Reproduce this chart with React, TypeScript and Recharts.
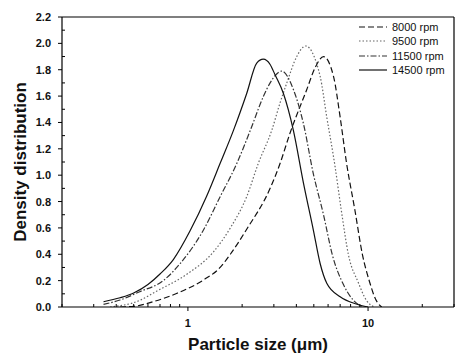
import { LineChart, Line, XAxis, YAxis, Legend, ReferenceLine, Label } from "recharts";

// particle size (µm) and density, one pair of lists per speed
const size8000 = [0.42, 0.5, 0.64, 0.87, 1.22, 1.51, 1.72, 2.12, 2.86, 3.25, 3.69, 4.57, 5.1, 5.66, 6.43, 7.0, 7.6, 8.45, 9.3, 10.2, 11.0, 11.9];
const density8000 = [0.0, 0.005, 0.04, 0.104, 0.205, 0.3, 0.4, 0.59, 0.9, 1.09, 1.32, 1.65, 1.82, 1.9, 1.75, 1.44, 1.09, 0.736, 0.4, 0.19, 0.06, 0.0];

const size9500 = [0.37, 0.54, 0.67, 0.99, 1.39, 1.72, 2.12, 2.46, 2.92, 3.25, 3.54, 4.02, 4.5, 5.42, 5.9, 6.56, 7.1, 7.8, 8.8, 9.8, 10.8];
const density9500 = [0.0, 0.05, 0.12, 0.25, 0.42, 0.6, 0.837, 1.09, 1.34, 1.55, 1.7, 1.9, 1.98, 1.75, 1.44, 1.065, 0.736, 0.39, 0.19, 0.05, 0.0];

const size11500 = [0.34, 0.42, 0.54, 0.73, 0.906, 1.22, 1.51, 1.87, 2.22, 2.63, 2.86, 3.32, 3.85, 4.38, 4.97, 5.66, 6.35, 7.3, 8.3, 9.4];
const density11500 = [0.02, 0.053, 0.116, 0.2, 0.33, 0.584, 0.837, 1.09, 1.34, 1.6, 1.7, 1.79, 1.65, 1.39, 1.01, 0.7, 0.39, 0.17, 0.05, 0.0];

const size14500 = [0.34, 0.42, 0.5, 0.6, 0.7, 0.83, 1.03, 1.27, 1.51, 1.79, 2.12, 2.41, 2.62, 2.86, 3.05, 3.39, 3.85, 4.38, 4.97, 5.42, 5.9, 7.0, 8.6, 10.0];
const density14500 = [0.04, 0.07, 0.106, 0.17, 0.25, 0.36, 0.58, 0.84, 1.09, 1.34, 1.62, 1.85, 1.88, 1.84, 1.76, 1.62, 1.34, 0.94, 0.584, 0.33, 0.18, 0.078, 0.023, 0.0];

const seriesNames = ["8000 rpm", "9500 rpm", "11500 rpm", "14500 rpm"];

const xTicks = [0.2, 0.3, 0.4, 0.5, 0.6, 0.7, 0.8, 0.9, 1, 2, 3, 4, 5, 6, 7, 8, 9, 10, 20, 30];
const xLabelled = [1, 10];
const yTicks = [0, 0.1, 0.2, 0.3, 0.4, 0.5, 0.6, 0.7, 0.8, 0.9, 1.0, 1.1, 1.2, 1.3, 1.4, 1.5, 1.6, 1.7, 1.8, 1.9, 2.0, 2.1, 2.2];

const zip = (xs: number[], ys: number[]) => xs.map((x, i) => ({ x, y: ys[i] }));

const series = [
  { name: seriesNames[0], data: zip(size8000, density8000), stroke: "#111", dash: "6 3" },
  { name: seriesNames[1], data: zip(size9500, density9500), stroke: "#666", dash: "1.5 2" },
  { name: seriesNames[2], data: zip(size11500, density11500), stroke: "#333", dash: "6 2 1.5 2" },
  { name: seriesNames[3], data: zip(size14500, density14500), stroke: "#111", dash: undefined as string | undefined },
];

const font = "'Liberation Sans', Arial, sans-serif";

const XTick = (props: any) => {
  const { x, y, payload } = props;
  const major = xLabelled.includes(payload.value);
  return (
    <g>
      <line x1={x} x2={x} y1={y} y2={major ? y + 4 : y - 3} stroke="#000" strokeWidth={1} />
      {major && (
        <text x={x} y={y + 20} textAnchor="middle" fontFamily={font} fontWeight="bold" fontSize={11} fill="#111">
          {payload.value}
        </text>
      )}
    </g>
  );
};

const YTick = (props: any) => {
  const { x, y, payload } = props;
  const major = Math.round(payload.value * 10) % 2 === 0;
  return (
    <g>
      <line x1={x} x2={major ? x - 4 : x + 3} y1={y} y2={y} stroke="#000" strokeWidth={1} />
      {major && (
        <text x={x - 11} y={y + 4} textAnchor="end" fontFamily={font} fontWeight="bold" fontSize={11} fill="#111">
          {payload.value.toFixed(1)}
        </text>
      )}
    </g>
  );
};

const renderLegend = () => (
  <div style={{ fontFamily: font, fontSize: 11, color: "#111", lineHeight: "14.3px" }}>
    {series.map((s) => (
      <div key={s.name} style={{ display: "flex", alignItems: "center", height: 14.3 }}>
        <svg width={29} height={6} style={{ marginRight: 4 }}>
          <line x1={0} x2={28} y1={3} y2={3} stroke={s.stroke} strokeWidth={1.2} strokeDasharray={s.dash} />
        </svg>
        <span>{s.name}</span>
      </div>
    ))}
  </div>
);

export default function App() {
  return (
    <div style={{ position: "absolute", left: 0, top: 0, width: 469, height: 360, background: "#fff" }}>
      <LineChart width={469} height={360} margin={{ top: 17, right: 15, left: 0, bottom: 0 }}>
        <XAxis
          dataKey="x"
          type="number"
          scale="log"
          domain={[0.2, 30]}
          allowDataOverflow
          ticks={xTicks}
          interval={0}
          height={53}
          tickSize={0}
          tickMargin={0}
          tickLine={false}
          tick={<XTick />}
          axisLine={{ stroke: "#000", strokeWidth: 1.2 }}
        >
          <Label
            content={() => (
              <text x={258} y={350} textAnchor="middle" fontFamily={font} fontWeight="bold" fontSize={17} fill="#111">
                Particle size (μm)
              </text>
            )}
          />
        </XAxis>
        <YAxis
          dataKey="y"
          type="number"
          domain={[0, 2.2]}
          allowDataOverflow
          ticks={yTicks}
          interval={0}
          width={62}
          tickSize={0}
          tickMargin={0}
          tickLine={false}
          tick={<YTick />}
          axisLine={{ stroke: "#000", strokeWidth: 1.2 }}
        >
          <Label
            content={() => (
              <text
                x={26}
                y={162}
                transform="rotate(-90 26 162)"
                textAnchor="middle"
                fontFamily={font}
                fontWeight="bold"
                fontSize={17}
                fill="#111"
              >
                Density distribution
              </text>
            )}
          />
        </YAxis>
        <ReferenceLine y={2.2} stroke="#000" strokeWidth={1.2} />
        <ReferenceLine x={30} stroke="#000" strokeWidth={1.2} />
        {series.map((s) => (
          <Line
            key={s.name}
            name={s.name}
            data={s.data}
            dataKey="y"
            type="monotone"
            stroke={s.stroke}
            strokeWidth={1.2}
            strokeDasharray={s.dash}
            dot={false}
            activeDot={false}
            isAnimationActive={false}
          />
        ))}
        <Legend
          layout="vertical"
          align="center"
          verticalAlign="middle"
          content={renderLegend}
          wrapperStyle={{ top: 20, left: 359, width: 100, height: 60 }}
        />
      </LineChart>
    </div>
  );
}
